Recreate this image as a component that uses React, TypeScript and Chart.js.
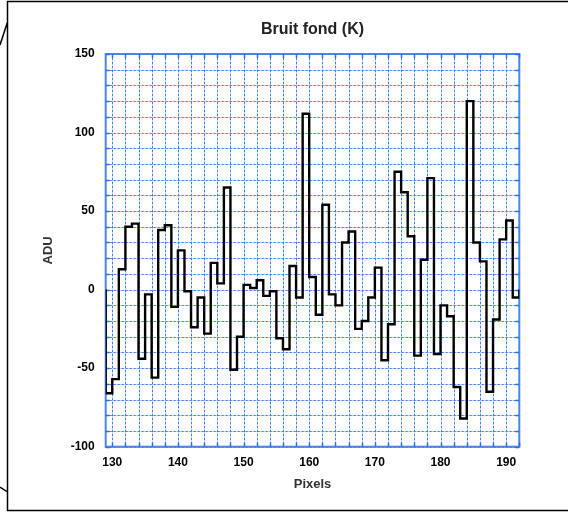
import React, { useEffect, useRef } from "react";
import { Chart, registerables } from "chart.js";

Chart.register(...registerables);

// Pixel (bin start) positions and ADU values
const pixels: number[] = [
  129, 130, 131, 132, 133, 134, 135, 136, 137, 138,
  139, 140, 141, 142, 143, 144, 145, 146, 147, 148,
  149, 150, 151, 152, 153, 154, 155, 156, 157, 158,
  159, 160, 161, 162, 163, 164, 165, 166, 167, 168,
  169, 170, 171, 172, 173, 174, 175, 176, 177, 178,
  179, 180, 181, 182, 183, 184, 185, 186, 187, 188,
  189, 190, 191,
];
const adu: number[] = [
  -66, -57, 13, 40, 42, -44, -3, -56, 38, 41,
  -11, 25, -1, -24, -5, -28, 17, 4, 65, -51,
  -30, 3, 1, 6, -4, -1, -31, -38, 15, -5,
  112, 8, -16, 54, -3, -10, 30, 37, -25, -20,
  -5, 14, -45, -22, 75, 62, 34, -42, 19, 71,
  -41, -10, -17, -62, -82, 120, 30, 18, -65, -19,
  32, 44, -5,
];
const xMin = 129;
const xMax = 192;
const yMin = -100;
const yMax = 150;
const xGridValues: number[] = [
  130, 132, 134, 136, 138, 140, 142, 144, 146, 148, 150, 152, 154, 156, 158,
  160, 162, 164, 166, 168, 170, 172, 174, 176, 178, 180, 182, 184, 186, 188,
  190, 192,
];
const yGridValues: number[] = [
  -100, -90, -80, -70, -60, -50, -40, -30, -20, -10, 0, 10, 20, 30, 40, 50,
  60, 70, 80, 90, 100, 110, 120, 130, 140, 150,
];
const xLabelValues: number[] = [130, 140, 150, 160, 170, 180, 190];
const yLabelValues: number[] = [-100, -50, 0, 50, 100, 150];
const chartTitle = "Bruit fond (K)";
const xTitle = "Pixels";
const yTitle = "ADU";

const W = 568;
const H = 512;
const FONT = '"Liberation Sans", Arial, Helvetica, sans-serif';
const GRID_LIGHT = "rgba(150,188,246,0.6)";
const GRID_DARK = "#3f80ee";
const EDGE = "#2f6fe6";

const decorPlugin = {
  id: "decor",
  beforeDatasetsDraw(chart: any) {
    const { ctx, chartArea: a } = chart;
    const xs = chart.scales.x;
    const ys = chart.scales.y;
    ctx.save();
    const gridPath = () => {
      ctx.beginPath();
      for (const v of xGridValues) {
        const px = Math.round(xs.getPixelForValue(v)) + 0.5;
        ctx.moveTo(px, a.top);
        ctx.lineTo(px, a.bottom);
      }
      for (const v of yGridValues) {
        const py = Math.round(ys.getPixelForValue(v)) + 0.5;
        ctx.moveTo(a.left, py);
        ctx.lineTo(a.right, py);
      }
    };
    ctx.lineWidth = 1;
    ctx.strokeStyle = GRID_LIGHT;
    gridPath();
    ctx.stroke();
    ctx.setLineDash([2, 2]);
    ctx.strokeStyle = GRID_DARK;
    gridPath();
    ctx.stroke();
    ctx.setLineDash([]);
    // plot border
    ctx.strokeStyle = "#4a86e8";
    ctx.lineWidth = 2;
    ctx.strokeRect(a.left, a.top, a.right - a.left, a.bottom - a.top);
    // inward ticks
    ctx.strokeStyle = EDGE;
    ctx.lineWidth = 1.5;
    const tl = 4;
    ctx.beginPath();
    for (const v of xGridValues) {
      const px = Math.round(xs.getPixelForValue(v)) + 0.5;
      ctx.moveTo(px, a.top);
      ctx.lineTo(px, a.top + tl);
      ctx.moveTo(px, a.bottom);
      ctx.lineTo(px, a.bottom - tl);
    }
    for (const v of yGridValues) {
      const py = Math.round(ys.getPixelForValue(v)) + 0.5;
      ctx.moveTo(a.left, py);
      ctx.lineTo(a.left + tl, py);
      ctx.moveTo(a.right, py);
      ctx.lineTo(a.right - tl, py);
    }
    ctx.stroke();
    ctx.restore();
  },
  afterDraw(chart: any) {
    const { ctx, chartArea: a } = chart;
    ctx.save();
    ctx.fillStyle = "#222";
    ctx.font = `bold 16px ${FONT}`;
    ctx.textAlign = "center";
    ctx.textBaseline = "middle";
    ctx.fillText(chartTitle, (a.left + a.right) / 2, 30);
    // outer frame
    ctx.strokeStyle = "#000";
    ctx.lineWidth = 1.5;
    ctx.beginPath();
    ctx.moveTo(W, 1.5);
    ctx.lineTo(7.5, 1.5);
    ctx.lineTo(7.5, 510.5);
    ctx.lineTo(W, 510.5);
    ctx.moveTo(0, 45);
    ctx.lineTo(7.5, 22);
    ctx.moveTo(0, 487);
    ctx.lineTo(7.5, 492);
    ctx.stroke();
    ctx.restore();
  },
};

export default function App() {
  const ref = useRef<HTMLCanvasElement>(null);
  useEffect(() => {
    const canvas = ref.current;
    if (!canvas) return;
    const points: { x: number; y: number }[] = [{ x: pixels[0], y: 0 }];
    pixels.forEach((p, i) => points.push({ x: p, y: adu[i] }));
    points.push({ x: pixels[pixels.length - 1] + 1, y: 0 });

    const tickFont = { family: FONT, size: 12, weight: "bold" as const };
    const chart = new Chart(canvas, {
      type: "line",
      data: {
        datasets: [
          {
            data: points,
            stepped: "before",
            borderColor: "#000",
            borderWidth: 2.4,
            pointRadius: 0,
            fill: false,
          } as any,
        ],
      },
      options: {
        animation: false,
        responsive: false,
        devicePixelRatio: 1,
        layout: { padding: { left: 0, right: W - 519.3, top: 54, bottom: 0 } },
        plugins: {
          legend: { display: false },
          tooltip: { enabled: false },
          title: { display: false },
        },
        scales: {
          x: {
            type: "linear",
            min: xMin,
            max: xMax,
            afterBuildTicks: (s: any) => {
              s.ticks = xGridValues.map((v) => ({ value: v }));
            },
            afterFit: (s: any) => {
              s.height = 65.3;
            },
            ticks: {
              autoSkip: false,
              maxRotation: 0,
              padding: 9,
              color: "#000",
              font: tickFont,
              callback: (v: any) => (xLabelValues.includes(Number(v)) ? String(v) : ""),
            },
            grid: { display: false, drawTicks: false },
            border: { display: false },
            title: {
              display: true,
              text: xTitle,
              color: "#333",
              font: { family: FONT, size: 13, weight: "bold" },
              padding: { top: 0, bottom: 20 },
            },
          },
          y: {
            type: "linear",
            min: yMin,
            max: yMax,
            afterBuildTicks: (s: any) => {
              s.ticks = yGridValues.map((v) => ({ value: v }));
            },
            afterFit: (s: any) => {
              s.width = 105.7;
            },
            ticks: {
              autoSkip: false,
              padding: 11,
              color: "#000",
              font: tickFont,
              callback: (v: any) => (yLabelValues.includes(Number(v)) ? String(v) : ""),
            },
            grid: { display: false, drawTicks: false },
            border: { display: false },
            title: {
              display: true,
              text: yTitle,
              color: "#333",
              font: { family: FONT, size: 13, weight: "bold" },
              padding: { top: 41, bottom: 0 },
            },
          },
        },
      },
      plugins: [decorPlugin],
    });
    return () => chart.destroy();
  }, []);

  return (
    <div style={{ position: "absolute", left: 0, top: 0, width: W, height: H, background: "#fff" }}>
      <canvas ref={ref} width={W} height={H} style={{ display: "block", width: W, height: H }} />
    </div>
  );
}
